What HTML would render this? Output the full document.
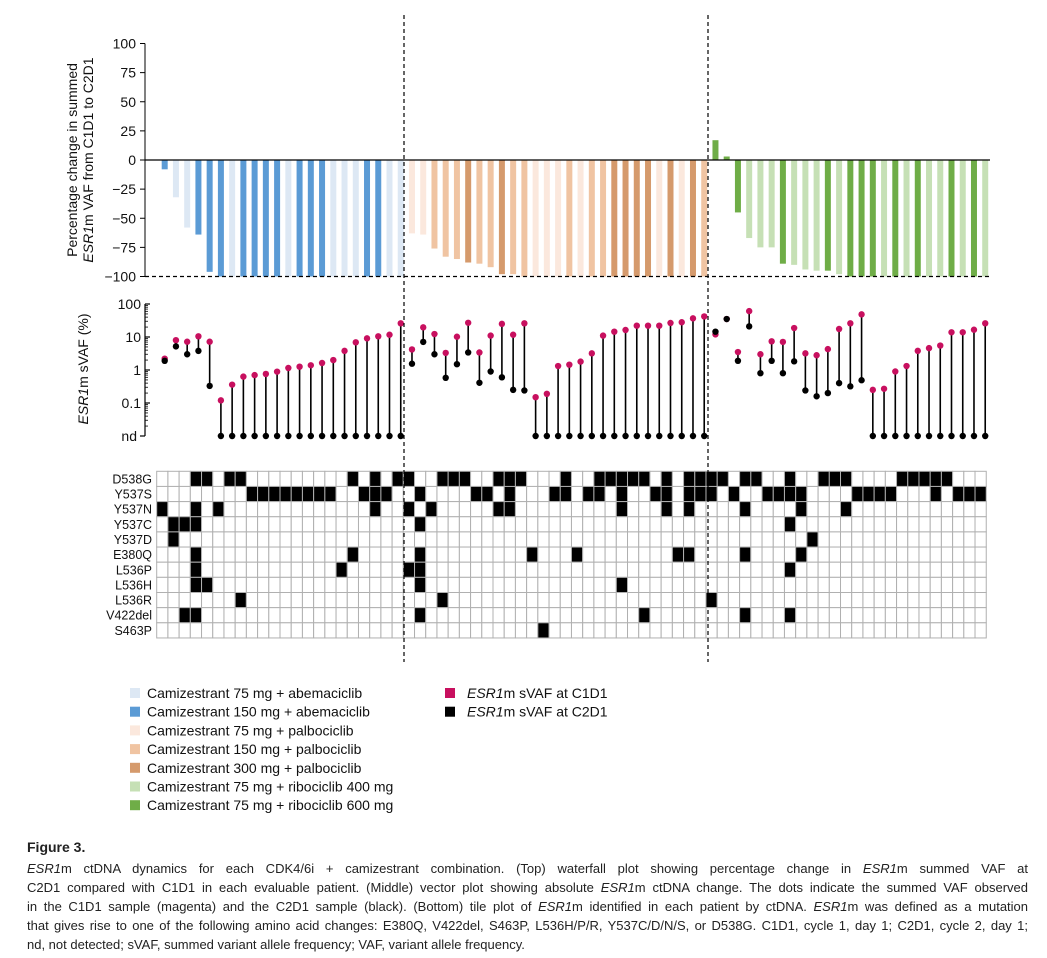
<!DOCTYPE html>
<html><head><meta charset="utf-8"><style>
html,body{margin:0;padding:0;background:#fff;}
body{width:1047px;height:958px;overflow:hidden;position:relative;font-family:"Liberation Sans",sans-serif;}
.cap{position:absolute;left:27px;width:1001px;font-size:13px;color:#222;line-height:19px;}
.j{text-align:justify;text-align-last:justify;white-space:nowrap;}
</style></head><body>
<svg id="fig" width="1047" height="830" style="position:absolute;left:0;top:0" font-family="Liberation Sans, sans-serif"></svg>
<div class="cap" style="top:838px;font-weight:bold;font-size:14px;">Figure 3.</div>
<div class="cap" style="top:859px;">
<div class="j"><i>ESR1</i>m ctDNA dynamics for each CDK4/6i + camizestrant combination. (Top) waterfall plot showing percentage change in <i>ESR1</i>m summed VAF at</div>
<div class="j">C2D1 compared with C1D1 in each evaluable patient. (Middle) vector plot showing absolute <i>ESR1</i>m ctDNA change. The dots indicate the summed VAF observed</div>
<div class="j">in the C1D1 sample (magenta) and the C2D1 sample (black). (Bottom) tile plot of <i>ESR1</i>m identified in each patient by ctDNA. <i>ESR1</i>m was defined as a mutation</div>
<div class="j">that gives rise to one of the following amino acid changes: E380Q, V422del, S463P, L536H/P/R, Y537C/D/N/S, or D538G. C1D1, cycle 1, day 1; C2D1, cycle 2, day 1;</div>
<div>nd, not detected; sVAF, summed variant allele frequency; VAF, variant allele frequency.</div>
</div>
<script>
const cohortLabels=["Camizestrant 75 mg + abemaciclib","Camizestrant 150 mg + abemaciclib","Camizestrant 75 mg + palbociclib","Camizestrant 150 mg + palbociclib","Camizestrant 300 mg + palbociclib","Camizestrant 75 mg + ribociclib 400 mg","Camizestrant 75 mg + ribociclib 600 mg"];
const cohortColors=["#dde8f4","#5b9bd5","#fbe8dd","#f0c4a2","#d59a6c","#c6e0b5","#6fad47"];
const cohort=[1,0,0,1,1,1,0,1,1,1,1,0,1,1,1,0,0,0,1,1,0,0,
2,2,3,3,3,4,3,3,4,3,3,2,2,2,3,2,3,3,4,4,4,4,2,4,2,4,3,
6,6,6,5,5,5,6,5,5,5,6,5,6,6,6,5,6,5,6,5,5,6,5,6,5];
const pctChange=[-8,-32,-58,-64,-96,-100,-100,-100,-100,-100,-100,-100,-100,-100,-100,-100,-100,-100,-100,-100,-100,-100,
-63,-64,-76,-83,-85,-88,-89,-92,-98,-98,-100,-100,-100,-100,-100,-100,-100,-100,-100,-100,-100,-100,-100,-100,-100,-100,-100,
17,3,-45,-67,-75,-75,-89,-90,-94,-95,-95,-98,-100,-100,-100,-100,-100,-100,-100,-100,-100,-100,-100,-100,-100];
// 0 = not detected
const vafC1D1=[2.2,8,7.2,10.5,7.2,0.12,0.36,0.63,0.7,0.76,0.89,1.15,1.26,1.39,1.63,2.0,3.8,6.9,9.1,10.5,11.7,26,
4.2,19.6,12.3,3.3,10.2,27,3.4,11,25,11.7,26,0.15,0.19,1.32,1.45,1.8,3.2,11,14.5,16.3,22,22,22,26.6,28,36.7,42,
12,35,3.5,61,3,7.4,7.1,18.7,3.2,2.8,4.3,17.5,26,48.5,0.25,0.27,0.9,1.32,3.8,4.6,5.5,13.9,13.9,16.6,26];
const vafC2D1=[1.9,5.2,3.0,3.8,0.33,0,0,0,0,0,0,0,0,0,0,0,0,0,0,0,0,0,
1.55,7.1,3.0,0.58,1.5,3.4,0.41,0.9,0.6,0.25,0.24,0,0,0,0,0,0,0,0,0,0,0,0,0,0,0,0,
14.5,35,1.9,21,0.8,1.9,0.8,1.83,0.24,0.16,0.2,0.4,0.32,0.49,0,0,0,0,0,0,0,0,0,0,0];
const mutations=["D538G","Y537S","Y537N","Y537C","Y537D","E380Q","L536P","L536H","L536R","V422del","S463P"];
const tileD538G=[3,4,6,7,17,19,21,22,25,26,27,30,31,32,36,39,40,41,42,43,45,47,48,49,50,52,53,56,59,60,61,66,67,68,69,70];
const tileY537S=[8,9,10,11,12,13,14,15,18,19,20,23,28,29,31,35,36,38,39,41,44,45,47,48,49,51,54,55,56,57,62,63,64,65,69,71,72,73];
const tileY537N=[0,3,5,19,22,24,30,31,41,45,47,52,57,61];
const tileY537C=[1,2,3,23,56];
const tileY537D=[1,58];
const tileE380Q=[3,17,23,33,37,46,47,52,57];
const tileL536P=[3,16,22,23,56];
const tileL536H=[3,4,23,41];
const tileL536R=[7,25,49];
const tileV422del=[2,3,23,43,52,56];
const tileS463P=[34];
const tiles=[tileD538G,tileY537S,tileY537N,tileY537C,tileY537D,tileE380Q,tileL536P,tileL536H,tileL536R,tileV422del,tileS463P];
const pctTicks=[100,75,50,25,0,-25,-50,-75,-100];
const vafTicks=[100,10,1,0.1];
const vafTickLabels=["100","10","1","0.1"];

const NS="http://www.w3.org/2000/svg";
const svg=document.getElementById('fig');
function el(tag,attrs,parent){const e=document.createElementNS(NS,tag);for(const k in attrs)e.setAttribute(k,attrs[k]);(parent||svg).appendChild(e);return e;}
const N=pctChange.length;
const xCol=i=>164.7+i*11.24;
const yPct=v=>160-v*1.165;
const yVaf=v=>v>0?370-33*Math.log10(v):436;
const AX=145;

const wf=el('g',{});


pctChange.forEach((v,i)=>{
  const y0=yPct(0),y1=yPct(v);
  const r=el('rect',{x:xCol(i)-3,y:Math.min(y0,y1),width:6,height:Math.abs(y1-y0),fill:cohortColors[cohort[i]]},wf);
  
  
});
el('line',{x1:AX,y1:yPct(0),x2:990,y2:yPct(0),stroke:'#000','stroke-width':1.3},wf);
el('line',{x1:AX,y1:yPct(-100),x2:990,y2:yPct(-100),stroke:'#000','stroke-width':1.2,'stroke-dasharray':'4,3'},wf);
el('line',{x1:AX,y1:yPct(100),x2:AX,y2:yPct(-100),stroke:'#000','stroke-width':1},wf);
pctTicks.forEach(t=>{
  el('line',{x1:AX-5,y1:yPct(t),x2:AX,y2:yPct(t),stroke:'#000'},wf);
  const tx=el('text',{x:AX-9,y:yPct(t)+5,'text-anchor':'end','font-size':14,fill:'#111'},wf);
  tx.textContent=t<0?'\u2212'+(-t):String(t);
  
  
});
const yl=el('text',{transform:'translate(77,160) rotate(-90)','text-anchor':'middle','font-size':14,fill:'#111'});


el('tspan',{x:0,y:0},yl).textContent='Percentage change in summed';
const ts2=el('tspan',{x:0,y:16},yl);
el('tspan',{'font-style':'italic'},ts2).textContent='ESR1';
el('tspan',{},ts2).textContent='m VAF from C1D1 to C2D1';

const vp=el('g',{});


el('line',{x1:AX,y1:yVaf(100),x2:AX,y2:436,stroke:'#000','stroke-width':1.2},vp);
for(let d=-2;d<2;d++){for(let m=2;m<10;m++){const y=yVaf(m*Math.pow(10,d));el('line',{x1:AX,y1:y,x2:AX+3,y2:y,stroke:'#000','stroke-width':0.8},vp);}}
vafTicks.forEach((t,k)=>{
  el('line',{x1:AX,y1:yVaf(t),x2:AX+5,y2:yVaf(t),stroke:'#000','stroke-width':1.2},vp);
  const tx=el('text',{x:AX-4,y:yVaf(t)+5,'text-anchor':'end','font-size':14,fill:'#111'},vp);
  tx.textContent=vafTickLabels[k];
  
  
});
el('line',{x1:AX-5,y1:436,x2:AX,y2:436,stroke:'#000','stroke-width':1.2},vp);
const nd=el('text',{x:AX-8,y:441,'text-anchor':'end','font-size':14,fill:'#111'},vp);nd.textContent='nd';


const vl=el('text',{transform:'translate(88,369) rotate(-90)','text-anchor':'middle','font-size':14,fill:'#111'});


el('tspan',{'font-style':'italic'},vl).textContent='ESR1';
el('tspan',{},vl).textContent='m sVAF (%)';
vafC1D1.forEach((v,i)=>{
  const x=xCol(i),ya=yVaf(v),yb=yVaf(vafC2D1[i]);
  el('line',{x1:x,y1:ya,x2:x,y2:yb,stroke:'#000','stroke-width':1.6},vp);
  const a=el('circle',{cx:x,cy:ya,r:3.2,fill:'#c8105f'},vp);
  
  
  const b=el('circle',{cx:x,cy:yb,r:3.2,fill:'#000'},vp);
  
  
});

const tp=el('g',{});


const TX=156.7,TY=471.3,CW=11.21,RH=15.15;
mutations.forEach((m,r)=>{
  const lab=el('text',{x:152,y:TY+RH*(r+0.5)+4.5,'text-anchor':'end','font-size':12.5,fill:'#111'},tp);
  lab.textContent=m;
  
  
  for(let c=0;c<N;c++){
    const on=tiles[r].includes(c);
    const t=el('rect',{x:TX+c*CW,y:TY+r*RH,width:CW,height:RH,fill:on?'#000':'#fff',stroke:'#b0b0b0','stroke-width':1},tp);
    
    
  }
});

[404,708].forEach(x=>{
  const d=el('line',{x1:x,y1:15,x2:x,y2:662,stroke:'#000','stroke-width':1.2,'stroke-dasharray':'4,3'});
  
  
});

const lg=el('g',{});


cohortLabels.forEach((l,k)=>{
  const y=693+k*18.7;
  el('rect',{x:130,y:y-5,width:10,height:10,fill:cohortColors[k]},lg);
  const t=el('text',{x:147,y:y+5,'font-size':14,fill:'#111'},lg);t.textContent=l;
  
  
});
[['#c8105f','C1D1'],['#000','C2D1']].forEach((p,k)=>{
  const y=693+k*18.7;
  el('rect',{x:445,y:y-5,width:10,height:10,fill:p[0]},lg);
  const t=el('text',{x:467,y:y+5,'font-size':14,fill:'#111'},lg);
  el('tspan',{'font-style':'italic'},t).textContent='ESR1';
  el('tspan',{},t).textContent='m sVAF at '+p[1];
  
  
});
</script>
</body></html>
